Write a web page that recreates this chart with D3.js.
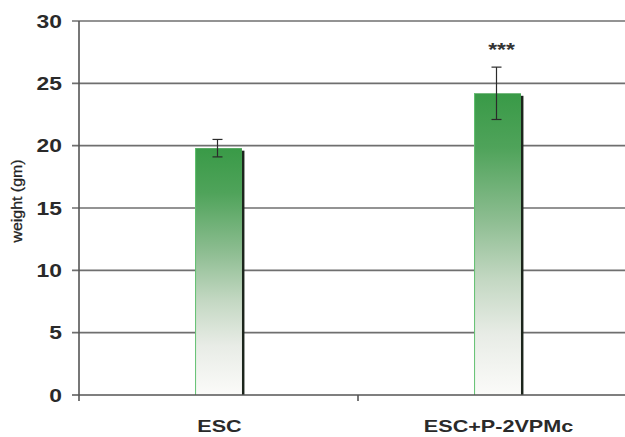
<!DOCTYPE html>
<html>
<head>
<meta charset="utf-8">
<script src="https://cdn.jsdelivr.net/npm/d3@7"></script>
<style>
  html, body { margin: 0; padding: 0; background: #fff; }
  svg { display: block; font-family: "Liberation Sans", Arial, Helvetica, sans-serif; }
</style>
</head>
<body>
<svg id="chart" width="625" height="437"></svg>
<script>
// Body weight per treatment group (mean ± error)
const categories = ["ESC", "ESC+P-2VPMc"];
const weights = [19.8, 24.2];
const errors = [0.7, 2.1];
const significance = ["", "***"];
const yTicks = [0, 5, 10, 15, 20, 25, 30];
const yLabel = "weight (gm)";

const svg = d3.select("#chart");
const W = 625, H = 437;
const plotLeft = 79, plotTop = 21, plotBottom = 395;
const xStretch = 1.27; // wide lettering

const x = d3.scaleBand().domain(categories).range([plotLeft, plotLeft + 558]).padding(0);
const y = d3.scaleLinear().domain([0, 30]).range([plotBottom, plotTop]);
const barW = x.bandwidth() * 0.168;

// Gradient fill for the bars: green at the top fading to white
const defs = svg.append("defs");
const grad = defs.append("linearGradient")
  .attr("id", "barGrad").attr("x1", 0).attr("y1", 0).attr("x2", 0).attr("y2", 1);
[[0, "#399a47"], [0.18, "#4fa35a"], [0.42, "#8dbd91"], [0.62, "#c4d8c3"], [0.8, "#e8ece6"], [1, "#fbfbf9"]]
  .forEach(([o, c]) => grad.append("stop").attr("offset", o).attr("stop-color", c));

// Horizontal gridlines with left tick marks
svg.append("g").selectAll("line").data(yTicks.filter(t => t > 0)).join("line")
  .attr("x1", plotLeft - 7).attr("x2", W)
  .attr("y1", d => y(d)).attr("y2", d => y(d))
  .attr("stroke", "#6f6f6f").attr("stroke-width", 1.6);

// Y tick labels
svg.append("g").selectAll("text").data(yTicks).join("text")
  .attr("transform", d => `translate(62,${y(d) + 6.5}) scale(${xStretch},1)`)
  .attr("text-anchor", "end")
  .attr("font-size", 18).attr("font-weight", "bold").attr("fill", "#2a2a2a")
  .text(d => d);

// Y axis title
svg.append("text")
  .attr("transform", "translate(22,201) rotate(-90)")
  .attr("text-anchor", "middle")
  .attr("font-size", 15).attr("fill", "#222")
  .attr("stroke", "#222").attr("stroke-width", 0.3)
  .attr("textLength", 83).attr("lengthAdjust", "spacingAndGlyphs")
  .text(yLabel);

// Bars: right-hand shadow, gradient body, light green left edge
const bars = svg.append("g").selectAll("g").data(categories).join("g");
bars.append("rect")
  .attr("x", (d) => x(d) + x.bandwidth() / 2 + barW / 2 - 0.5)
  .attr("y", (d, i) => y(weights[i]) + 2.5)
  .attr("width", 3)
  .attr("height", (d, i) => plotBottom - y(weights[i]) - 2.5)
  .attr("fill", "#1c251c");
bars.append("rect")
  .attr("x", d => x(d) + x.bandwidth() / 2 - barW / 2)
  .attr("y", (d, i) => y(weights[i]))
  .attr("width", barW)
  .attr("height", (d, i) => plotBottom - y(weights[i]))
  .attr("fill", "url(#barGrad)");
bars.append("line")
  .attr("x1", d => x(d) + x.bandwidth() / 2 - barW / 2 + 0.5)
  .attr("x2", d => x(d) + x.bandwidth() / 2 - barW / 2 + 0.5)
  .attr("y1", (d, i) => y(weights[i]))
  .attr("y2", plotBottom)
  .attr("stroke", "#62c070").attr("stroke-width", 1);

// Error bars
const eb = svg.append("g").attr("stroke", "#2b2b2b").attr("stroke-width", 1.2);
categories.forEach((c, i) => {
  const cx = x(c) + x.bandwidth() / 2 - 1;
  const hi = y(weights[i] + errors[i]), lo = y(weights[i] - errors[i]);
  eb.append("line").attr("x1", cx).attr("x2", cx).attr("y1", hi).attr("y2", lo);
  eb.append("line").attr("x1", cx - 5).attr("x2", cx + 5).attr("y1", hi).attr("y2", hi);
  eb.append("line").attr("x1", cx - 5).attr("x2", cx + 5).attr("y1", lo).attr("y2", lo);
});

// Significance marks
svg.append("g").selectAll("text").data(categories).join("text")
  .attr("transform", (d, i) =>
    `translate(${x(d) + x.bandwidth() / 2 + 4},${y(weights[i] + errors[i]) - 11}) scale(${xStretch},1)`)
  .attr("text-anchor", "middle")
  .attr("font-size", 18).attr("font-weight", "bold").attr("fill", "#333")
  .text((d, i) => significance[i]);

// Axis lines
svg.append("line").attr("x1", plotLeft).attr("x2", plotLeft).attr("y1", plotTop).attr("y2", plotBottom + 6)
  .attr("stroke", "#555").attr("stroke-width", 1.6);
svg.append("line").attr("x1", plotLeft - 7).attr("x2", W).attr("y1", plotBottom).attr("y2", plotBottom)
  .attr("stroke", "#555").attr("stroke-width", 1.6);
// Category boundary ticks
svg.append("g").selectAll("line").data(categories.slice(1)).join("line")
  .attr("x1", d => x(d)).attr("x2", d => x(d))
  .attr("y1", plotBottom).attr("y2", plotBottom + 6)
  .attr("stroke", "#555").attr("stroke-width", 1.6);

// Category labels
svg.append("g").selectAll("text").data(categories).join("text")
  .attr("transform", d => `translate(${x(d) + x.bandwidth() / 2 + 1},432) scale(${xStretch},1)`)
  .attr("text-anchor", "middle")
  .attr("font-size", 17).attr("font-weight", "bold").attr("fill", "#2a2a2a")
  .text(d => d);
</script>
</body>
</html>
